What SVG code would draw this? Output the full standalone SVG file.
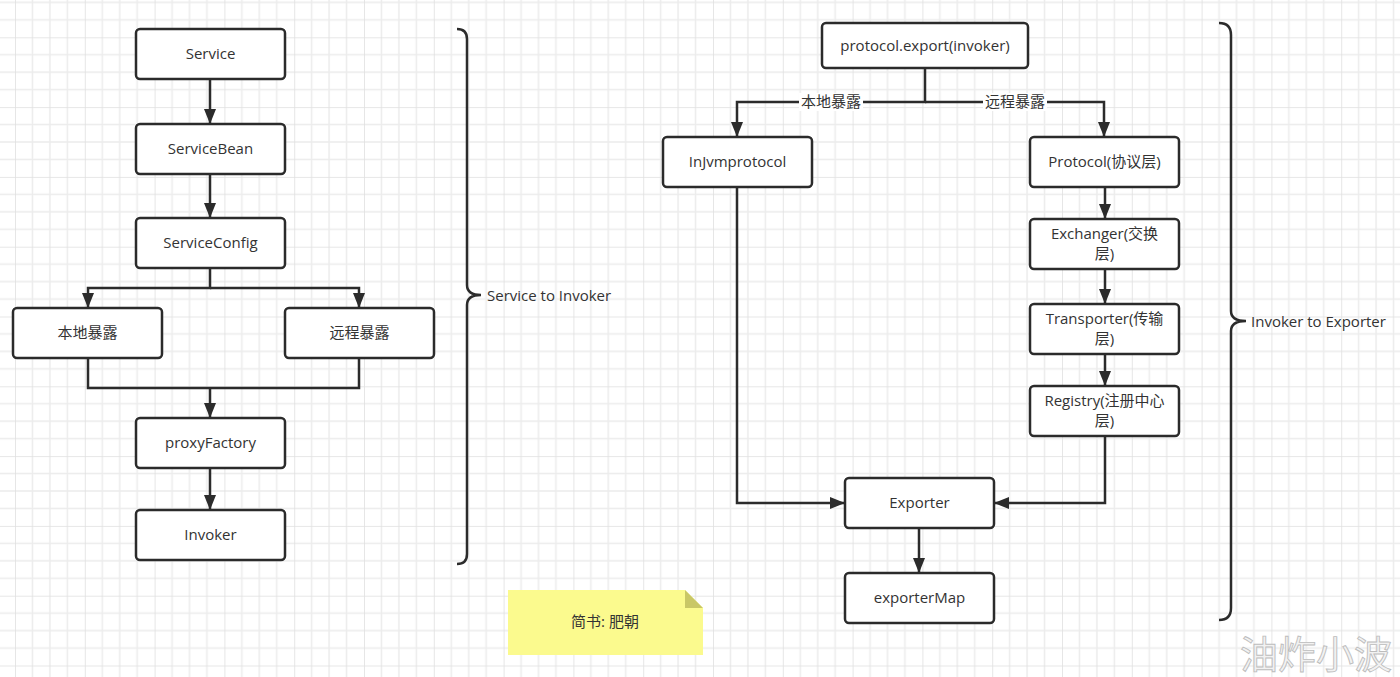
<svg xmlns="http://www.w3.org/2000/svg" width="1400" height="677" viewBox="0 0 1400 677">
<defs>
<pattern id="grid" x="15" y="37.3" width="69.8" height="69.8" patternUnits="userSpaceOnUse">
<path d="M17.45,0V69.8M34.9,0V69.8M52.35,0V69.8M0,17.45H69.8M0,34.9H69.8M0,52.35H69.8" stroke="#ececec" stroke-width="1.5" fill="none"/>
<path d="M0,0V69.8M0,0H69.8" stroke="#e0e0e0" stroke-width="1.6" fill="none"/>
</pattern>
<marker id="arr" markerUnits="userSpaceOnUse" markerWidth="15" markerHeight="12" refX="15" refY="6" orient="auto">
<path d="M0,0L15,6L0,12z" fill="#2b2b2b"/>
</marker>
<style>
.box{fill:#fff;stroke:#2b2b2b;stroke-width:2.5}
.t{font-family:"Open Sans","Noto Sans CJK SC",sans-serif;font-size:15px;fill:#333;text-anchor:middle;dominant-baseline:central}
.lbl{font-family:"Open Sans","Noto Sans CJK SC",sans-serif;font-size:15px;fill:#333;dominant-baseline:central}
.c{fill:none;stroke:#2b2b2b;stroke-width:2.5}
.a{marker-end:url(#arr)}
.br{fill:none;stroke:#2b2b2b;stroke-width:2.5}
</style>
</defs>
<rect width="1400" height="677" fill="#fff"/>
<rect width="1400" height="677" fill="url(#grid)"/>

<g id="connectors">
<path class="c a" d="M210,79V124"/>
<path class="c a" d="M210,174V218"/>
<path class="c a" d="M210,268V288H88V308"/>
<path class="c a" d="M210,288H359V308"/>
<path class="c" d="M88,358V388H359V358"/>
<path class="c a" d="M210,388V418"/>
<path class="c a" d="M210,468V510"/>
<path class="c a" d="M925,68V102H737V137"/>
<path class="c a" d="M925,102H1104V137"/>
<rect x="799" y="93" width="64" height="18" fill="#fff"/>
<text class="t" x="831" y="101">本地暴露</text>
<rect x="983" y="93" width="64" height="18" fill="#fff"/>
<text class="t" x="1015" y="101">远程暴露</text>
<path class="c a" d="M1105,187V219"/>
<path class="c a" d="M1105,269V304"/>
<path class="c a" d="M1105,354V386"/>
<path class="c a" d="M737,187V503H845"/>
<path class="c a" d="M1105,436V503H994"/>
<path class="c a" d="M919,528V573"/>
</g>

<g id="service"><rect class="box" x="136" y="29" width="149" height="50" rx="4"/><text class="t" x="210.5" y="53">Service</text></g>
<g id="serviceBean"><rect class="box" x="136" y="124" width="149" height="50" rx="4"/><text class="t" x="210.5" y="148">ServiceBean</text></g>
<g id="serviceConfig"><rect class="box" x="136" y="218" width="149" height="50" rx="4"/><text class="t" x="210.5" y="242">ServiceConfig</text></g>
<g id="local"><rect class="box" x="13" y="308" width="149" height="50" rx="4"/><text class="t" x="87.5" y="332">本地暴露</text></g>
<g id="remote"><rect class="box" x="285" y="308" width="149" height="50" rx="4"/><text class="t" x="359.5" y="332">远程暴露</text></g>
<g id="proxyFactory"><rect class="box" x="136" y="418" width="149" height="50" rx="4"/><text class="t" x="210.5" y="442">proxyFactory</text></g>
<g id="invoker"><rect class="box" x="136" y="510" width="149" height="50" rx="4"/><text class="t" x="210.5" y="534">Invoker</text></g>

<g id="brace1"><path class="br" d="M457,29Q467,29 467,39V285Q467,295 481,295Q467,295 467,305V554Q467,564 457,564"/><text class="lbl" x="487" y="295">Service to Invoker</text></g>

<g id="protocolExport"><rect class="box" x="822" y="23" width="206" height="45" rx="4"/><text class="t" x="925" y="44.5">protocol.export(invoker)</text></g>
<g id="injvm"><rect class="box" x="663" y="137" width="149" height="50" rx="4"/><text class="t" x="737.5" y="161">InJvmprotocol</text></g>
<g id="protocol"><rect class="box" x="1030" y="137" width="149" height="50" rx="4"/><text class="t" x="1104.5" y="161">Protocol(协议层)</text></g>
<g id="exchanger"><rect class="box" x="1030" y="219" width="149" height="50" rx="4"/><text class="t" x="1104.5" y="233">Exchanger(交换</text><text class="t" x="1104.5" y="253">层)</text></g>
<g id="transporter"><rect class="box" x="1030" y="304" width="149" height="50" rx="4"/><text class="t" x="1104.5" y="318">Transporter(传输</text><text class="t" x="1104.5" y="338">层)</text></g>
<g id="registry"><rect class="box" x="1030" y="386" width="149" height="50" rx="4"/><text class="t" x="1104.5" y="400">Registry(注册中心</text><text class="t" x="1104.5" y="420">层)</text></g>
<g id="exporter"><rect class="box" x="845" y="478" width="149" height="50" rx="4"/><text class="t" x="919.5" y="502">Exporter</text></g>
<g id="exporterMap"><rect class="box" x="845" y="573" width="149" height="50" rx="4"/><text class="t" x="919.5" y="597">exporterMap</text></g>

<g id="brace2"><path class="br" d="M1219,23Q1231,23 1231,35V311Q1231,321 1246,321Q1231,321 1231,331V608Q1231,620 1219,620"/><text class="lbl" x="1251" y="321">Invoker to Exporter</text></g>

<g id="note"><path d="M508,590H685L703,608V655H508z" fill="#fbfa8e"/><path d="M685,590L703,608H685z" fill="#c9c766"/><text class="t" x="605" y="621">简书: 肥朝</text></g>

<text x="1316" y="651" font-family="'Noto Sans CJK SC',sans-serif" font-size="38" fill="#f2f2f2" stroke="#bdbdbd" stroke-width="0.9" text-anchor="middle" dominant-baseline="central">油炸小波</text>
</svg>
